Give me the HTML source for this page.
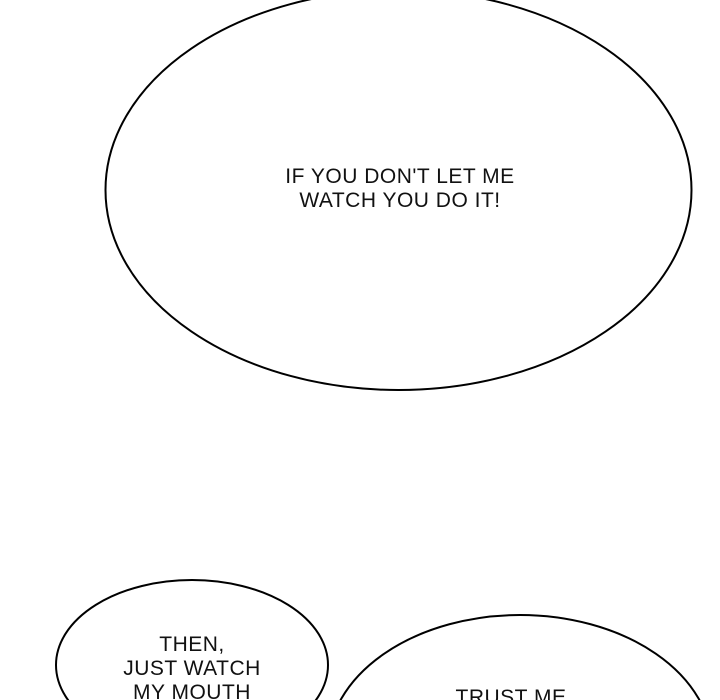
<!DOCTYPE html>
<html><head><style>
html,body{margin:0;padding:0;background:#fff;width:720px;height:700px;overflow:hidden;}
body{position:relative;}
svg{position:absolute;left:0;top:0;}
.t{position:absolute;font-family:"Liberation Sans",sans-serif;font-size:21px;color:#111;text-align:center;line-height:24px;letter-spacing:0.5px;}
</style></head><body>
<svg width="720" height="700">
<ellipse cx="398.5" cy="190" rx="293" ry="200" fill="#fff" stroke="#000" stroke-width="2"/>
<ellipse cx="192" cy="665" rx="136" ry="85" fill="#fff" stroke="#000" stroke-width="2"/>
<ellipse cx="520" cy="747" rx="192" ry="132" fill="#fff" stroke="#000" stroke-width="2"/>
</svg>
<div class="t" style="left:250px;top:165px;width:300px;">IF YOU DON'T LET ME<br>WATCH YOU DO IT!</div>
<div class="t" style="left:92px;top:633px;width:200px;">THEN,<br>JUST WATCH<br>MY MOUTH</div>
<div class="t" style="left:411px;top:686px;width:200px;height:14px;overflow:visible;">TRUST ME</div>
</body></html>
